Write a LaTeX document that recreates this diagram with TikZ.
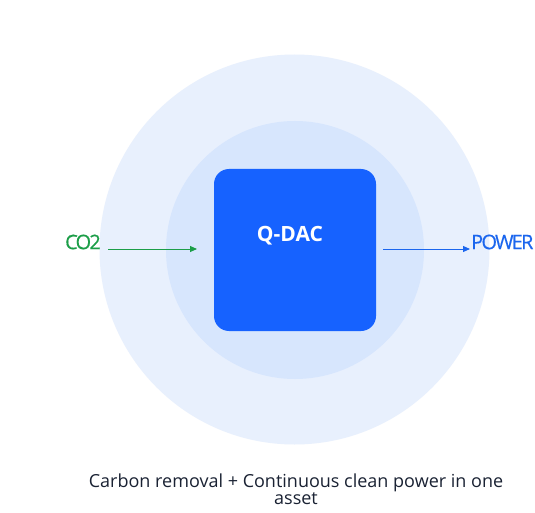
\documentclass[tikz,border=0pt]{standalone}
\usepackage{fontspec}
\setmainfont{Open Sans}
\usetikzlibrary{arrows.meta}
\definecolor{outerc}{HTML}{E8F0FD}
\definecolor{innerc}{HTML}{D7E6FD}
\definecolor{boxc}{HTML}{1662FF}
\definecolor{greenc}{HTML}{1C9E48}
\definecolor{bluec}{HTML}{1B66EE}
\definecolor{textc}{HTML}{1A2233}
\tikzset{
  lbl/.style={font=\fontsize{20}{20}\selectfont, inner sep=0pt},
  conn/.style={line width=0.9pt, -{Triangle[length=7pt,width=6pt]}}
}
\begin{document}
\begin{tikzpicture}[x=1pt,y=-1pt]
\useasboundingbox (0,0) rectangle (535,513);
\fill[white] (0,0) rectangle (535,513);
\node[circle, fill=outerc, minimum size=390pt, inner sep=0pt] (outer) at (294.5,249.5) {};
\node[circle, fill=innerc, minimum size=258pt, inner sep=0pt] (inner) at (295,250) {};
\node[fill=boxc, rounded corners=15pt, minimum width=162pt, minimum height=162pt, inner sep=0pt] (box) at (295,250) {};
\node[font=\fontsize{21}{21}\selectfont\bfseries, text=white, inner sep=0pt] (title) at (290,236) {Q-DAC};
\node[lbl, text=greenc, anchor=east] (co2) at (101,242) {\addfontfeature{LetterSpace=-9,FakeBold=0.6}CO2};
\node[lbl, text=bluec, anchor=west] (power) at (471,242) {\addfontfeature{LetterSpace=-9,FakeBold=0.4}POWER};
\coordinate (cin) at (108,249);
\coordinate (cinend) at (197,249);
\coordinate (pout) at (383,249);
\coordinate (poutend) at (470,249);
\draw[conn, greenc] (cin) -- (cinend);
\draw[conn, bluec] (pout) -- (poutend);
\node[font=\fontsize{18}{16}\selectfont, text=textc, align=center, inner sep=0pt] (caption) at (296,489) {Carbon removal + Continuous clean power in one\\asset};
\end{tikzpicture}
\end{document}
